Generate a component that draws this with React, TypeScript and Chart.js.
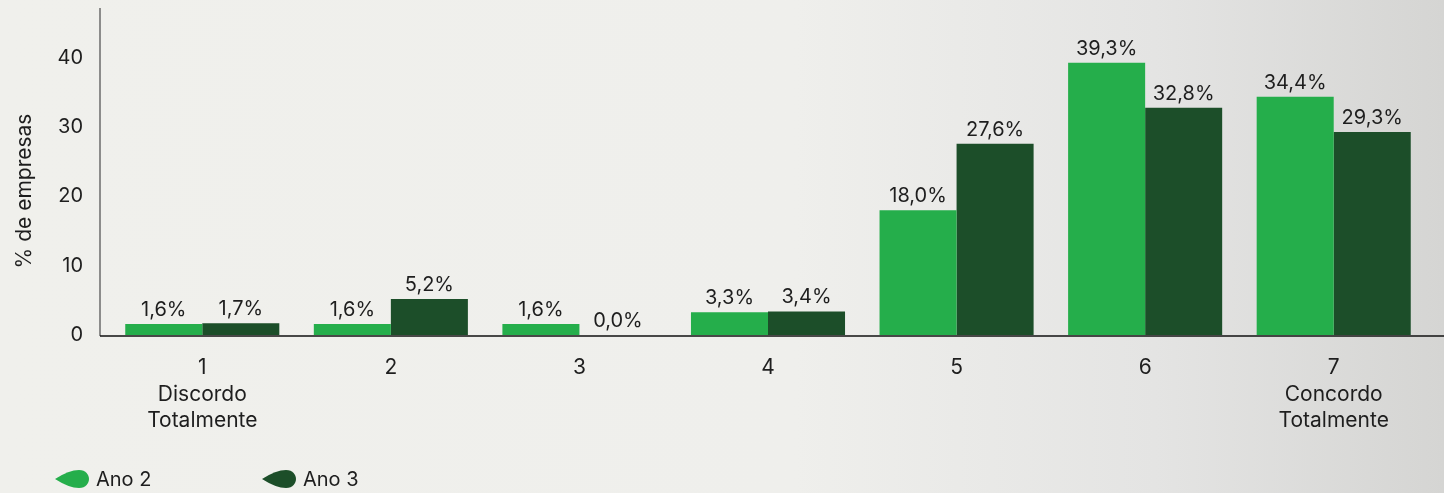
import React, { useEffect, useRef } from "react";
import { Chart, registerables } from "chart.js";

Chart.register(...registerables);

const categories: string[][] = [
  ["1", "Discordo", "Totalmente"],
  ["2"],
  ["3"],
  ["4"],
  ["5"],
  ["6"],
  ["7", "Concordo", "Totalmente"],
];
const ano2: number[] = [1.6, 1.6, 1.6, 3.3, 18.0, 39.3, 34.4];
const ano3: number[] = [1.7, 5.2, 0.0, 3.4, 27.6, 32.8, 29.3];
const seriesLabels: string[] = ["Ano 2", "Ano 3"];
const yTitle = "% de empresas";

const GREEN = "#25AE4B";
const DARK = "#1C4E29";
const TEXT = "#1e1e1e";
const FONT = "Inter, 'Open Sans', sans-serif";

const fmt = (v: number) => v.toFixed(1).replace(".", ",") + "%";

const customPlugin = {
  id: "custom",
  afterDraw(chart: any) {
    const ctx = chart.ctx;
    const area = chart.chartArea;
    const yScale = chart.scales.y;
    const xScale = chart.scales.x;
    const zeroY = yScale.getPixelForValue(0);
    ctx.save();
    // y axis line
    ctx.strokeStyle = "#6b6b6b";
    ctx.lineWidth = 1.5;
    ctx.beginPath();
    ctx.moveTo(100, area.top);
    ctx.lineTo(100, zeroY + 1);
    ctx.stroke();
    // x axis line
    ctx.strokeStyle = "#111";
    ctx.lineWidth = 1.5;
    ctx.beginPath();
    ctx.moveTo(100, zeroY + 1);
    ctx.lineTo(chart.width, zeroY + 1);
    ctx.stroke();

    // x category labels
    ctx.fillStyle = TEXT;
    ctx.font = `21px ${FONT}`;
    ctx.textAlign = "center";
    ctx.textBaseline = "middle";
    (chart.data.labels as string[][]).forEach((lines, i) => {
      const x = xScale.getPixelForValue(i);
      lines.forEach((line, li) => {
        ctx.fillText(line, x, zeroY + 33 + li * 26.5);
      });
    });

    // data labels
    ctx.font = `20px ${FONT}`;
    ctx.textAlign = "center";
    ctx.textBaseline = "alphabetic";
    chart.data.datasets.forEach((ds: any, di: number) => {
      const meta = chart.getDatasetMeta(di);
      meta.data.forEach((bar: any, i: number) => {
        ctx.fillText(fmt(ds.data[i]), bar.x, bar.y - 8);
      });
    });

    // y title
    ctx.save();
    ctx.translate(25, 191);
    ctx.rotate(-Math.PI / 2);
    ctx.font = `21px ${FONT}`;
    ctx.textAlign = "center";
    ctx.textBaseline = "middle";
    ctx.fillText(yTitle, 0, 0);
    ctx.restore();

    // legend with leaf icons
    const legendX = [55, 262];
    const ly = 479;
    chart.data.datasets.forEach((ds: any, di: number) => {
      const x = legendX[di];
      ctx.fillStyle = ds.backgroundColor;
      ctx.beginPath();
      ctx.moveTo(x, ly);
      ctx.quadraticCurveTo(x + 14, ly - 9, x + 24, ly - 9);
      ctx.bezierCurveTo(x + 31, ly - 9, x + 34, ly - 4, x + 34, ly);
      ctx.bezierCurveTo(x + 34, ly + 4, x + 31, ly + 9, x + 24, ly + 9);
      ctx.quadraticCurveTo(x + 14, ly + 9, x, ly);
      ctx.closePath();
      ctx.fill();
      ctx.fillStyle = TEXT;
      ctx.font = `20px ${FONT}`;
      ctx.textAlign = "left";
      ctx.textBaseline = "middle";
      ctx.fillText(ds.label, x + 41, ly + 1);
    });
    ctx.restore();
  },
};

export default function App() {
  const ref = useRef<HTMLCanvasElement | null>(null);
  useEffect(() => {
    if (!ref.current) return;
    const chart = new Chart(ref.current, {
      type: "bar",
      data: {
        labels: categories,
        datasets: [
          { label: seriesLabels[0], data: ano2, backgroundColor: GREEN, categoryPercentage: 0.817, barPercentage: 1 },
          { label: seriesLabels[1], data: ano3, backgroundColor: DARK, categoryPercentage: 0.817, barPercentage: 1 },
        ],
      },
      options: {
        animation: false,
        responsive: false,
        maintainAspectRatio: false,
        layout: { padding: { top: 8, right: 16, left: 0, bottom: 158 } },
        plugins: { legend: { display: false }, tooltip: { enabled: false } },
        scales: {
          x: {
            display: false,
          },
          y: {
            min: 0,
            max: 47.2,
            grid: { display: false, drawTicks: false },
            border: { display: false },
            ticks: {
              stepSize: 10,
              color: TEXT,
              font: { family: FONT, size: 20 },
              padding: 25,
              callback: (v: any) => (v % 10 === 0 ? String(v) : ""),
            },
            afterFit: (s: any) => {
              s.width = 108;
              s.paddingTop = 0;
              s.paddingBottom = 0;
            },
          },
        },
      },
      plugins: [customPlugin],
    });
    return () => chart.destroy();
  }, []);
  return (
    <div
      style={{
        position: "fixed",
        left: 0,
        top: 0,
        width: 1444,
        height: 493,
        background: "linear-gradient(to right, #F0F0EC 0%, #EFEFEC 55%, #E4E4E3 80%, #D5D5D3 100%)",
      }}
    >
      <canvas ref={ref} width={1444} height={493} style={{ display: "block" }} />
    </div>
  );
}
